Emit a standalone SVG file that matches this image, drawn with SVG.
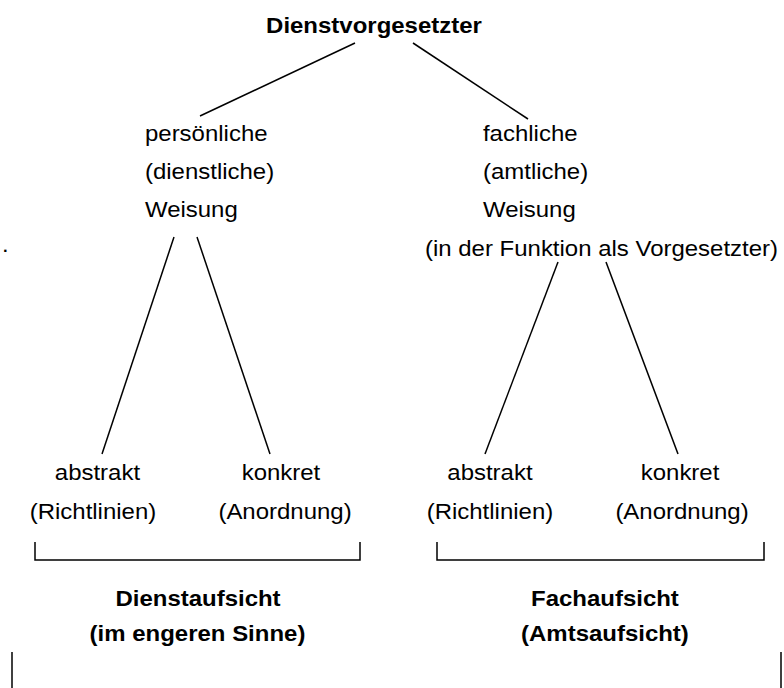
<svg xmlns="http://www.w3.org/2000/svg" width="784" height="688" viewBox="0 0 784 688">
<style>
  text { font-family: "Liberation Sans", Arial, sans-serif; font-size: 22px; fill: #000; }
  .b { font-weight: bold; }
  .m { text-anchor: middle; }
  .ln { stroke: #000; stroke-width: 1.5; fill: none; }
</style>
<rect width="784" height="688" fill="#fff"/>
<g id="connectors">
  <line class="ln" x1="355" y1="43" x2="200" y2="116"/>
  <line class="ln" x1="413" y1="43" x2="528" y2="119"/>
  <line class="ln" x1="174" y1="237" x2="102" y2="454"/>
  <line class="ln" x1="197" y1="237" x2="270" y2="454"/>
  <line class="ln" x1="558" y1="262" x2="485" y2="454"/>
  <line class="ln" x1="606" y1="262" x2="678" y2="454"/>
  <polyline class="ln" points="35,542 35,560 360,560 360,542"/>
  <polyline class="ln" points="437,542 437,560 764,560 764,542"/>
  <line class="ln" x1="12" y1="652" x2="12" y2="688"/>
  <line class="ln" x1="781" y1="652" x2="781" y2="688"/>
</g>
<g transform="scale(1.09 1)">
  <g id="root"><text class="b m" x="343.1" y="33">Dienstvorgesetzter</text></g>
  <g id="persoenlich">
    <text x="133" y="141">persönliche</text>
    <text x="133" y="179">(dienstliche)</text>
    <text x="133" y="217">Weisung</text>
  </g>
  <g id="fachlich">
    <text x="443.1" y="141">fachliche</text>
    <text x="443.1" y="179">(amtliche)</text>
    <text x="443.1" y="217">Weisung</text>
    <text x="389.9" y="256">(in der Funktion als Vorgesetzter)</text>
  </g>
  <g id="dot"><text x="1.8" y="252">.</text></g>
  <g id="abstrakt-l">
    <text class="m" x="89.4" y="480">abstrakt</text>
    <text class="m" x="85.3" y="519">(Richtlinien)</text>
  </g>
  <g id="konkret-l">
    <text class="m" x="257.8" y="480">konkret</text>
    <text class="m" x="261.5" y="519">(Anordnung)</text>
  </g>
  <g id="abstrakt-r">
    <text class="m" x="449.5" y="480">abstrakt</text>
    <text class="m" x="449.5" y="519">(Richtlinien)</text>
  </g>
  <g id="konkret-r">
    <text class="m" x="623.9" y="480">konkret</text>
    <text class="m" x="625.7" y="519">(Anordnung)</text>
  </g>
  <g id="dienstaufsicht">
    <text class="b m" x="181.7" y="606">Dienstaufsicht</text>
    <text class="b m" x="181.2" y="641">(im engeren Sinne)</text>
  </g>
  <g id="fachaufsicht">
    <text class="b m" x="555" y="606">Fachaufsicht</text>
    <text class="b m" x="555" y="641">(Amtsaufsicht)</text>
  </g>
</g>
</svg>
